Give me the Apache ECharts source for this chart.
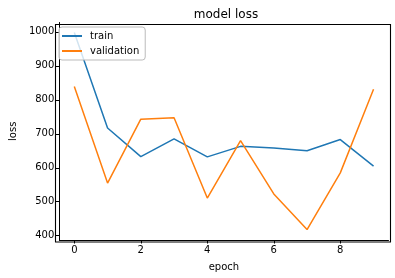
<!DOCTYPE html>
<html>
<head>
<meta charset="utf-8">
<script src="https://cdn.jsdelivr.net/npm/echarts@6/dist/echarts.min.js"></script>
<style>html,body{margin:0;padding:0;background:#fff}#c{width:395px;height:278px}</style>
</head>
<body>
<div id="c"></div>
<script>
const epochs = [0, 1, 2, 3, 4, 5, 6, 7, 8, 9];
const train = [998, 717, 633, 685, 632, 663, 658, 650, 683, 605];
const validation = [839, 555, 743, 747, 511, 680, 523, 418, 585, 831];
const xTicks = [0, 2, 4, 6, 8];
const yTicks = [400, 500, 600, 700, 800, 900, 1000];

const font = 'DejaVu Sans';
const W = 395, H = 278;
const G = {left: 53.5, right: 6.5, top: 22.5, bottom: 38};
const xMin = -0.45, xMax = 9.45, yMin = 387.4, yMax = 1027.6;
const spine = {show: true, onZero: false, lineStyle: {color: '#000', width: 1}};
const chart = echarts.init(document.getElementById('c'), null, {renderer: 'canvas'});
chart.setOption({
  animation: false,
  backgroundColor: '#fff',
  title: {
    text: 'model loss', left: 221, top: 4, textAlign: 'center',
    textStyle: {fontFamily: font, fontSize: 12, fontWeight: 'normal', color: '#000'}
  },
  grid: G,
  graphic: {
    elements: [{
      type: 'rect', z: 100, silent: true, left: G.left - 0.5, top: G.top - 0.5,
      shape: {width: W - G.left - G.right, height: H - G.top - G.bottom},
      style: {fill: null, stroke: '#000', lineWidth: 1.1}
    }]
  },
  legend: {
    orient: 'vertical', left: 59, top: 27, padding: [4, 6, 4, 3],
    borderColor: '#bbbbbb', borderWidth: 1, borderRadius: 3, backgroundColor: 'rgba(255,255,255,0.8)',
    itemWidth: 20, itemHeight: 2, itemGap: 5,
    icon: 'rect',
    textStyle: {fontFamily: font, fontSize: 10, color: '#000', padding: [0, 0, 0, 3]},
    data: ['train', 'validation']
  },
  xAxis: {
    type: 'value', min: xMin, max: xMax, position: 'bottom',
    name: 'epoch', nameLocation: 'middle', nameGap: 22,
    nameTextStyle: {fontFamily: font, fontSize: 10, color: '#000'},
    splitLine: {show: false},
    axisLine: spine,
    axisTick: {show: true, length: 3.5, lineStyle: {color: '#000'}, customValues: xTicks},
    axisLabel: {fontFamily: font, fontSize: 10, color: '#000', margin: 5, customValues: xTicks}
  },
  yAxis: {
    type: 'value', min: yMin, max: yMax, position: 'left',
    name: 'loss', nameLocation: 'middle', nameGap: 38, nameRotate: 90,
    nameTextStyle: {fontFamily: font, fontSize: 10, color: '#000'},
    splitLine: {show: false},
    axisLine: spine,
    axisTick: {show: true, length: 3.5, lineStyle: {color: '#000'}, customValues: yTicks},
    axisLabel: {fontFamily: font, fontSize: 10, color: '#000', margin: 5, customValues: yTicks,
      formatter: v => String(v)}
  },
  series: [
    {name: 'train', type: 'line', data: epochs.map((e, i) => [e, train[i]]), showSymbol: false,
     color: '#1f77b4', lineStyle: {width: 1.5, color: '#1f77b4'}, itemStyle: {color: '#1f77b4'}},
    {name: 'validation', type: 'line', data: epochs.map((e, i) => [e, validation[i]]), showSymbol: false,
     color: '#ff7f0e', lineStyle: {width: 1.5, color: '#ff7f0e'}, itemStyle: {color: '#ff7f0e'}}
  ]
});
</script>
</body>
</html>
